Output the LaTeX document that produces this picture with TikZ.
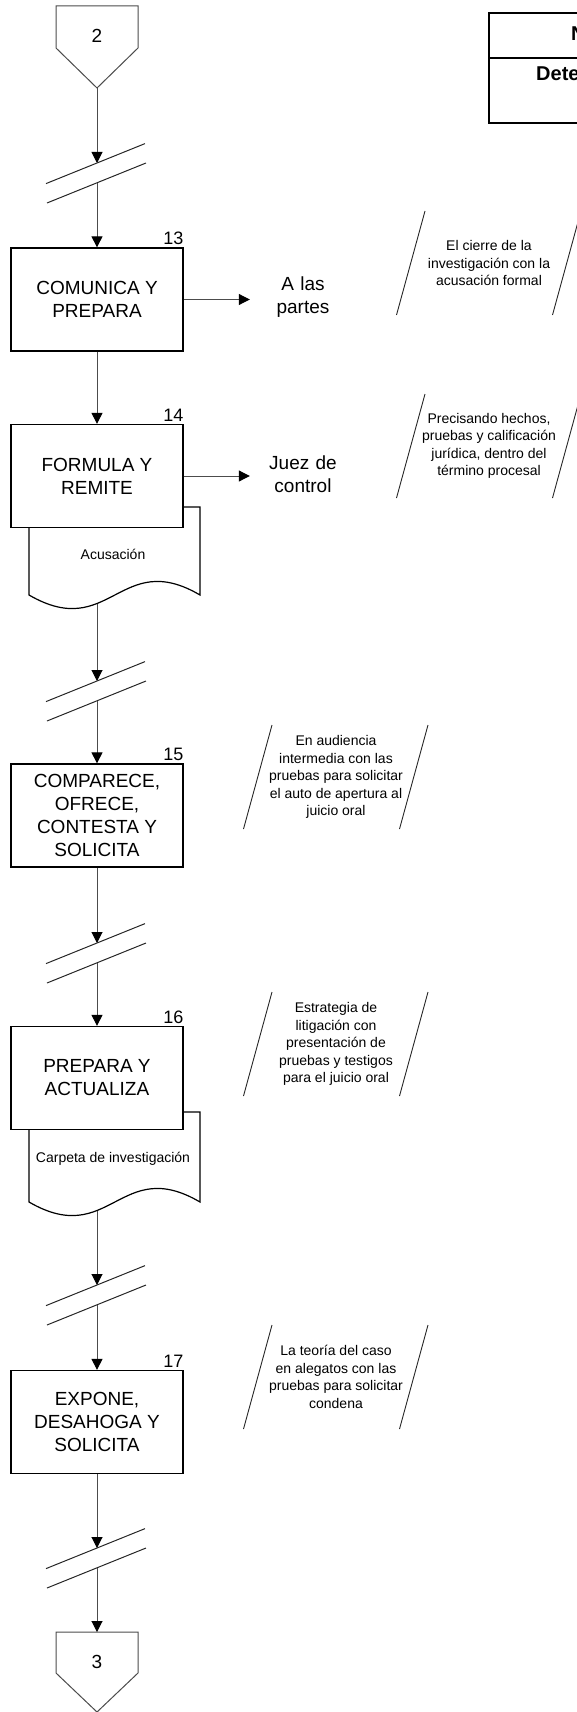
\documentclass[tikz,border=0pt]{standalone}
\usepackage{fontspec}
\setmainfont{Liberation Sans}
\usetikzlibrary{arrows.meta}

\tikzset{
  proc/.style={draw,line width=1.3pt,fill=white,minimum width=172pt,minimum height=103pt,
    inner sep=0pt,align=center,font=\fontsize{19}{23}\selectfont},
  num/.style={anchor=south east,inner sep=0pt,font=\fontsize{18}{18}\selectfont},
  dest/.style={text width=70pt,inner sep=0pt,align=center,font=\fontsize{19}{23}\selectfont},
  note/.style={inner sep=0pt,align=center,font=\fontsize{14}{17.5}\selectfont},
  doctxt/.style={inner sep=0pt,font=\fontsize{14}{17}\selectfont},
  docu/.style={draw,line width=1.2pt,fill=white},
  offp/.style={draw=black!70,line width=1pt,fill=white},
  flow/.style={draw=black!70,line width=1pt,-{Triangle[length=11pt,width=11pt,black]}},
  brk/.style={draw=black!85,line width=1pt},
  ann/.style={draw=black!85,line width=0.9pt},
  ttl/.style={anchor=west,inner sep=0pt,font=\bfseries\fontsize{20}{22}\selectfont},
}

\begin{document}
\begin{tikzpicture}[x=1pt,y=-1pt]
\useasboundingbox (0,0) rectangle (576,1712);

% Title table
\draw[line width=2.2pt] (489,13) rectangle (660,123);
\draw[line width=2.2pt] (489,58) -- (660,58);
\node[ttl] (ttlA) at (571,34) {N};
\node[ttl] (ttlB) at (536,74) {Dete};

% Off-page connectors
\draw[offp] (56,6) -- (138,6) -- (138,48) -- (97,88) -- (56,48) -- cycle;
\node[font=\fontsize{19}{19}\selectfont] (off2) at (97,36) {2};
\coordinate (off2tip) at (97,88);
\draw[offp] (56,1632) -- (138,1632) -- (138,1673) -- (97,1712) -- (56,1673) -- cycle;
\node[font=\fontsize{19}{19}\selectfont] (off3) at (97,1662) {3};
\coordinate (off3top) at (97,1632);

% Breaks in the flow
\foreach \n/\y in {brA/163,brB/681,brC/943,brD/1285,brE/1548}{
  \draw[brk] (46,\y+20.6) -- (145,\y-19.4);
  \draw[brk] (47,\y+40) -- (146,\y);
  \coordinate (\n-in) at (97,\y);
  \coordinate (\n-out) at (97,\y+20);
}

% Documents (behind the boxes)
\draw[docu] (29,507) -- (200,507) -- (200,595) .. controls (120,548) and (110,642) .. (29,595) -- cycle;
\node[doctxt] (doc14) at (113,554) {Acusación};
\coordinate (doc14out) at (97,604);
\draw[docu] (29,1112) -- (200,1112) -- (200,1202) .. controls (120,1155) and (110,1249) .. (29,1202) -- cycle;
\node[doctxt] (doc16) at (113,1159) {Carpeta de investigación};
\coordinate (doc16out) at (97,1211);

% Process boxes
\node[proc] (p13) at (97,299.5) {COMUNICA Y\\PREPARA};
\node[proc] (p14) at (97,476) {FORMULA Y\\REMITE};
\node[proc] (p15) at (97,815.5) {COMPARECE,\\OFRECE,\\CONTESTA Y\\SOLICITA};
\node[proc] (p16) at (97,1078) {PREPARA Y\\ACTUALIZA};
\node[proc] (p17) at (97,1422) {EXPONE,\\DESAHOGA Y\\SOLICITA};

% Step numbers
\node[num] (n13) at ([yshift=2pt]p13.north east) {13};
\node[num] (n14) at ([yshift=2pt]p14.north east) {14};
\node[num] (n15) at ([yshift=2pt]p15.north east) {15};
\node[num] (n16) at ([yshift=2pt]p16.north east) {16};
\node[num] (n17) at ([yshift=2pt]p17.north east) {17};

% Outputs
\node[dest] (out13) at (303,297) {A las\\partes};
\node[dest] (out14) at (303,474.5) {Juez de\\control};
\draw[flow,shorten >=18pt] (p13.east) -- (p13.east -| out13.west);
\draw[flow,shorten >=18pt] (p14.east) -- (p14.east -| out14.west);

% Annotations
\node[note] (a13) at (489,263) {El cierre de la\\investigación con la\\acusación formal};
\node[note] (a14) at (489,446) {Precisando hechos,\\pruebas y calificación\\jurídica, dentro del\\término procesal};
\node[note] (a15) at (336,777) {En audiencia\\intermedia con las\\pruebas para solicitar\\el auto de apertura al\\juicio oral};
\node[note] (a16) at (336,1044) {Estrategia de\\litigación con\\presentación de\\pruebas y testigos\\para el juicio oral};
\node[note] (a17) at (336,1377) {La teoría del caso\\en alegatos con las\\pruebas para solicitar\\condena};
\foreach \a in {a13,a14,a15,a16,a17}
  \draw[ann] (\a.center) ++(-64,-52) -- ++(-28.5,104) (\a.center) ++(92,-52) -- ++(-28.5,104);

% Flow
\draw[flow] (off2tip) -- (brA-in);
\draw[flow] (brA-out) -- (p13.north);
\draw[flow] (p13.south) -- (p14.north);
\draw[flow] (doc14out) -- (brB-in);
\draw[flow] (brB-out) -- (p15.north);
\draw[flow] (p15.south) -- (brC-in);
\draw[flow] (brC-out) -- (p16.north);
\draw[flow] (doc16out) -- (brD-in);
\draw[flow] (brD-out) -- (p17.north);
\draw[flow] (p17.south) -- (brE-in);
\draw[flow] (brE-out) -- (off3top);
\end{tikzpicture}
\end{document}
